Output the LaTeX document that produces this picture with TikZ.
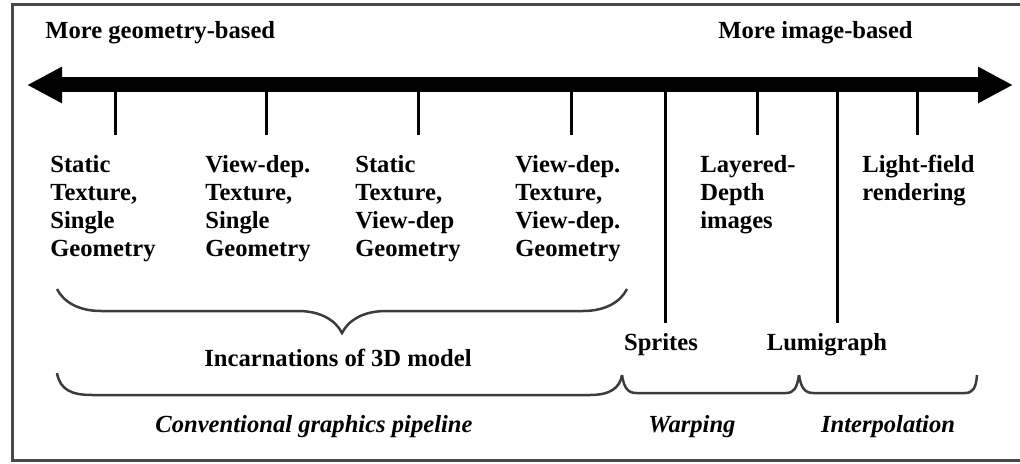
\documentclass[tikz,border=0pt]{standalone}
\usepackage{fontspec}
\setmainfont{Liberation Serif}
\definecolor{FrameGray}{HTML}{4A4A4A}
\definecolor{BraceGray}{HTML}{3C3C3C}
\usetikzlibrary{arrows.meta,calc,decorations.pathreplacing}

\begin{document}
\begin{tikzpicture}[x=0.2mm, y=-0.2mm, every node/.style={font=\fontsize{14}{16}\selectfont\bfseries, inner sep=0pt}]
\tikzset{axis/.style={line width=3mm, {Triangle[length=7mm,width=6.8mm]}-{Triangle[length=7mm,width=6.8mm]}}}
\tikzset{tick/.style={line width=0.6mm}}
\tikzset{group/.style={line width=0.5mm, draw=BraceGray}}
\tikzset{cat/.style={align=left, anchor=north west}}
\tikzset{kind/.style={font=\fontsize{14}{16}\selectfont\bfseries\itshape}}
\useasboundingbox (0,0) rectangle (1020,464);
\draw[FrameGray, line width=0.6mm] (1020,5) -- (12,5) -- (12,460) -- (1020,460);
% axis
\node[anchor=west] (geoLabel) at (45,33) {More geometry-based};
\node[anchor=west] (imgLabel) at (718,33) {More image-based};
\coordinate (geoEnd) at (27,85);
\coordinate (imgEnd) at (1013,85);
\draw[axis] (geoEnd) -- (imgEnd);
% categories
\node[cat] (statSing) at (50,155) {Static\\Texture,\\Single\\Geometry};
\node[cat] (viewSing) at (205,155) {View-dep.\\Texture,\\Single\\Geometry};
\node[cat] (statView) at (355,155) {Static\\Texture,\\View-dep\\Geometry};
\node[cat] (viewView) at (515,155) {View-dep.\\Texture,\\View-dep.\\Geometry};
\node[cat] (ldi) at (700,155) {Layered-\\Depth\\images};
\node[cat] (lightField) at (862,155) {Light-field\\rendering};
\node (sprites) at (661,345) {Sprites};
\node (lumigraph) at (827,345) {Lumigraph};
\foreach \x/\n in {115/statSing, 266/viewSing, 418/statView, 571/viewView, 757/ldi, 917/lightField}
  \draw[tick] (\x,85) -- ($(\x,0 |- \n.north)+(0,-20)$);
\draw[tick] (665,85) -- ($(665,0 |- sprites.north)+(0,-10)$);
\draw[tick] (837,85) -- ($(837,0 |- lumigraph.north)+(0,-10)$);
% groups
\draw[group, decorate, decoration={brace, amplitude=8.8mm, mirror}] (57,289) -- (627,289);
\node (incarn) at (338,358) {Incarnations of 3D model};
\draw[group] (57,373) .. controls (60,390) and (72,395) .. (92,395) -- (590,395)
  .. controls (610,395) and (620,388) .. (622,375);
\draw[group] (622,375) .. controls (624,388) and (628,393) .. (636,393) -- (786,393)
  .. controls (794,393) and (797,388) .. (799,375);
\draw[group] (799,375) .. controls (801,388) and (805,393) .. (813,393) -- (965,393)
  .. controls (973,393) and (976,388) .. (977,375);
\node[kind] (pipeline) at (314,427) {Conventional graphics pipeline};
\node[kind] (warping) at (692,427) {Warping};
\node[kind] (interp) at (888,427) {Interpolation};
\end{tikzpicture}
\end{document}
